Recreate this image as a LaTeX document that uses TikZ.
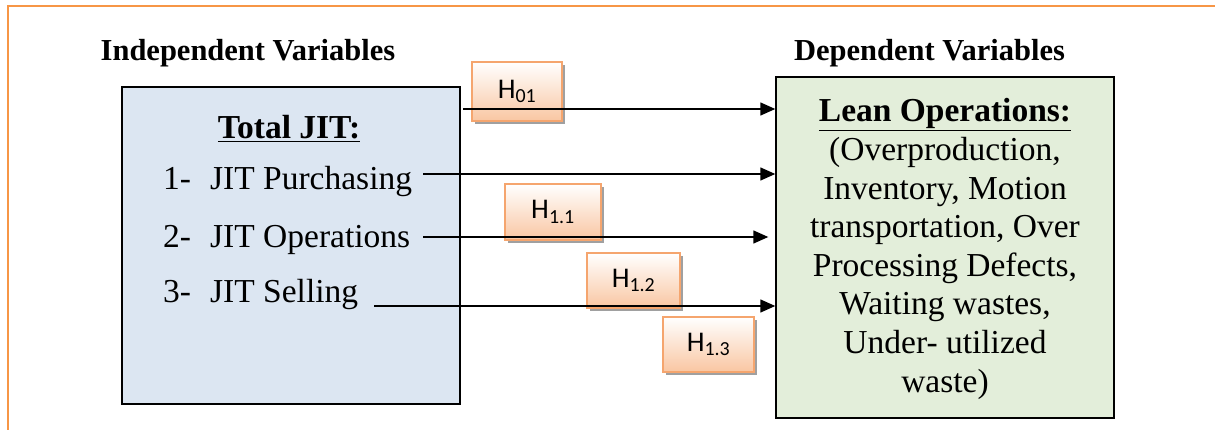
\documentclass[tikz,border=0pt]{standalone}
\usepackage{fontspec}
\setmainfont{Liberation Serif}
\newfontfamily\hfont{Carlito}
\usetikzlibrary{arrows.meta,shadows}

\definecolor{frameorange}{RGB}{247,150,70}
\definecolor{ivfill}{RGB}{220,230,242}
\definecolor{dvfill}{RGB}{227,238,218}
\definecolor{hborder}{RGB}{245,165,110}
\definecolor{hpeach}{RGB}{249,198,162}
\definecolor{shadowgray}{RGB}{150,150,150}

\tikzset{
  frameline/.style={draw=frameorange, line width=1.6pt},
  varbox/.style={draw=black, line width=1.4pt, inner sep=0pt,
    drop shadow={shadow xshift=1.2pt, shadow yshift=-1.2pt, fill=shadowgray, opacity=0.8}},
  heading/.style={font=\fontsize{30.5}{36}\selectfont\bfseries, inner sep=0pt},
  bodytext/.style={font=\fontsize{33.5}{38.6}\selectfont, inner sep=0pt},
  hyp/.style={draw=hborder, line width=1.8pt, top color=white, bottom color=hpeach,
    minimum width=91pt, minimum height=56pt, inner sep=0pt,
    font=\hfont\fontsize{28.5}{32}\selectfont,
    drop shadow={shadow xshift=3pt, shadow yshift=-3pt, fill=shadowgray, opacity=0.9}},
  arr/.style={line width=1.4pt, -{Triangle[length=15pt,width=13pt]}}
}

\begin{document}
\begin{tikzpicture}[x=1pt,y=-1pt]
\useasboundingbox (0,0) rectangle (1215,430);

% page frame
\draw[frameline] (8,430) -- (8,6) -- (1215,6);

% headings
\node[heading, anchor=base] (ivhead) at (248,61) {Independent Variables};
\node[heading, anchor=base] (dvhead) at (929.5,61) {Dependent Variables};

% variable boxes
\node[varbox, fill=ivfill, minimum width=338pt, minimum height=317pt] (iv) at (291,245.5) {};
\node[varbox, fill=dvfill, minimum width=338pt, minimum height=341pt] (dv) at (945,247.5) {};

% independent variable content
\node[bodytext, anchor=base] (ivtitle) at (289,139) {\textbf{\underline{Total JIT:}}};
\node[bodytext, anchor=base west] (i1) at (163,189.5) {\makebox[47pt][l]{1-}JIT Purchasing};
\node[bodytext, anchor=base west] (i2) at (163,247.5) {\makebox[47pt][l]{2-}JIT Operations};
\node[bodytext, anchor=base west] (i3) at (163,302) {\makebox[47pt][l]{3-}JIT Selling};

% dependent variable content
\node[bodytext, align=center] (dvtext) at (945,249) {\textbf{\underline{Lean Operations:}}\\
  (Overproduction,\\ Inventory, Motion\\ transportation, Over\\ Processing Defects,\\
  Waiting wastes,\\ Under- utilized\\ waste)};

% hypothesis labels
\node[hyp, minimum width=90pt, minimum height=59pt] (h01) at (517,91.5) {\raisebox{-2pt}{H\textsubscript{01}}};
\node[hyp, minimum width=96pt] (h11) at (553,212) {\raisebox{-2pt}{H\textsubscript{1.1}}};
\node[hyp, minimum width=93pt, minimum height=55pt] (h12) at (633.5,280.5) {\raisebox{-2pt}{H\textsubscript{1.2}}};
\node[hyp, minimum height=55pt] (h13) at (708.5,344.5) {\raisebox{-2pt}{H\textsubscript{1.3}}};

% connector start points
\coordinate (s0) at (463,109);
\coordinate (s1) at (423,174);
\coordinate (s2) at (423,237);
\coordinate (s3) at (374,306);

% connectors
\draw[arr] (s0) -- (s0 -| dv.west);
\draw[arr] (s1) -- (s1 -| dv.west);
\draw[arr] (s2) -- ([xshift=-7pt]s2 -| dv.west);
\draw[arr] (s3) -- (s3 -| dv.west);
\end{tikzpicture}
\end{document}
